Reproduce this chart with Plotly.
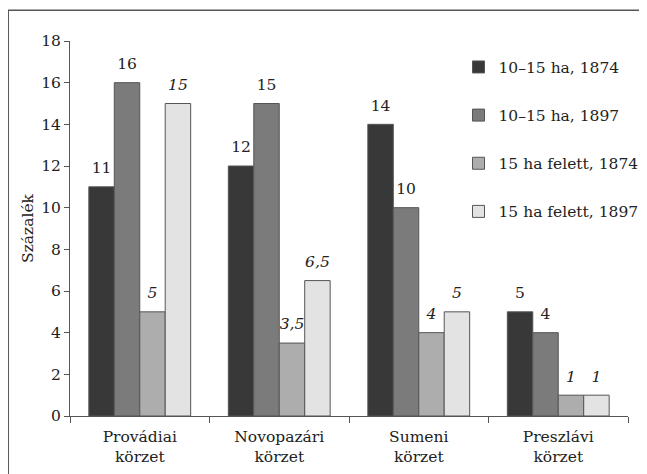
import plotly.graph_objects as go

categories = ["Provádiai<br>körzet", "Novopazári<br>körzet", "Sumeni<br>körzet", "Preszlávi<br>körzet"]
series_names = ["10–15 ha, 1874", "10–15 ha, 1897", "15 ha felett, 1874", "15 ha felett, 1897"]
s_10_15_1874 = [11, 12, 14, 5]
s_10_15_1897 = [16, 15, 10, 4]
s_15p_1874 = [5, 3.5, 4, 1]
s_15p_1897 = [15, 6.5, 5, 1]
y_ticks = [0, 2, 4, 6, 8, 10, 12, 14, 16, 18]

series_values = [s_10_15_1874, s_10_15_1897, s_15p_1874, s_15p_1897]
colors = ["#383838", "#7b7b7b", "#adadad", "#e3e3e3"]
italic = [False, False, True, True]
FONT = "DejaVu Serif"
FS = 15.5

def fmt(v):
    s = ("%g" % v).replace(".", ",")
    return s

fig = go.Figure()
for i, (name, vals) in enumerate(zip(series_names, series_values)):
    fig.add_trace(go.Bar(
        x=categories, y=vals, name=name,
        marker=dict(color=colors[i], line=dict(color="#555555", width=1)),
        offsetgroup=str(i), legendgroup=str(i),
        hoverinfo="skip",
    ))
for i, vals in enumerate(series_values):
    fig.add_trace(go.Scatter(
        x=categories, y=vals, mode="markers+text",
        text=[fmt(v) for v in vals], textposition="top center",
        textfont=dict(family=FONT, size=FS, color="#222222",
                      style="italic" if italic[i] else "normal"),
        marker=dict(size=14, opacity=0),
        offsetgroup=str(i), showlegend=False, hoverinfo="skip",
    ))

fig.update_layout(
    width=647, height=474,
    margin=dict(l=62, r=26, t=33, b=66),
    paper_bgcolor="white", plot_bgcolor="white",
    barmode="group", bargap=0.27, bargroupgap=0,
    scattermode="group", scattergap=0.27,
    font=dict(family=FONT, size=FS, color="#222222"),
    showlegend=True,
    legend=dict(x=0.695, y=0.975, xanchor="left", yanchor="top",
                traceorder="grouped", tracegroupgap=25,
                font=dict(family=FONT, size=FS, color="#222222"),
                bgcolor="rgba(0,0,0,0)", itemwidth=30),
    xaxis=dict(type="category", showline=True, linecolor="#555555", linewidth=1,
               ticks="outside", tickson="boundaries", ticklen=6, tickcolor="#555555",
               showgrid=False, zeroline=False, ticklabelstandoff=6,
               tickfont=dict(family=FONT, size=FS, color="#222222")),
    yaxis=dict(range=[0, 18], tickvals=y_ticks, showline=True, linecolor="#555555",
               linewidth=1, ticks="outside", ticklen=5, tickcolor="#555555",
               showgrid=False, zeroline=False,
               tickfont=dict(family=FONT, size=FS, color="#222222"),
               title=dict(text="Százalék", font=dict(family=FONT, size=FS, color="#222222"),
                          standoff=3)),
    shapes=[
        dict(type="line", xref="paper", yref="paper", x0=-0.111, x1=-0.111, y0=-0.3, y1=1.082,
             line=dict(color="#333333", width=1.5)),
        dict(type="line", xref="paper", yref="paper", x0=-0.111, x1=1.1, y0=1.082, y1=1.082,
             line=dict(color="#555555", width=1.5)),
    ],
)

fig.write_html("out.html")
